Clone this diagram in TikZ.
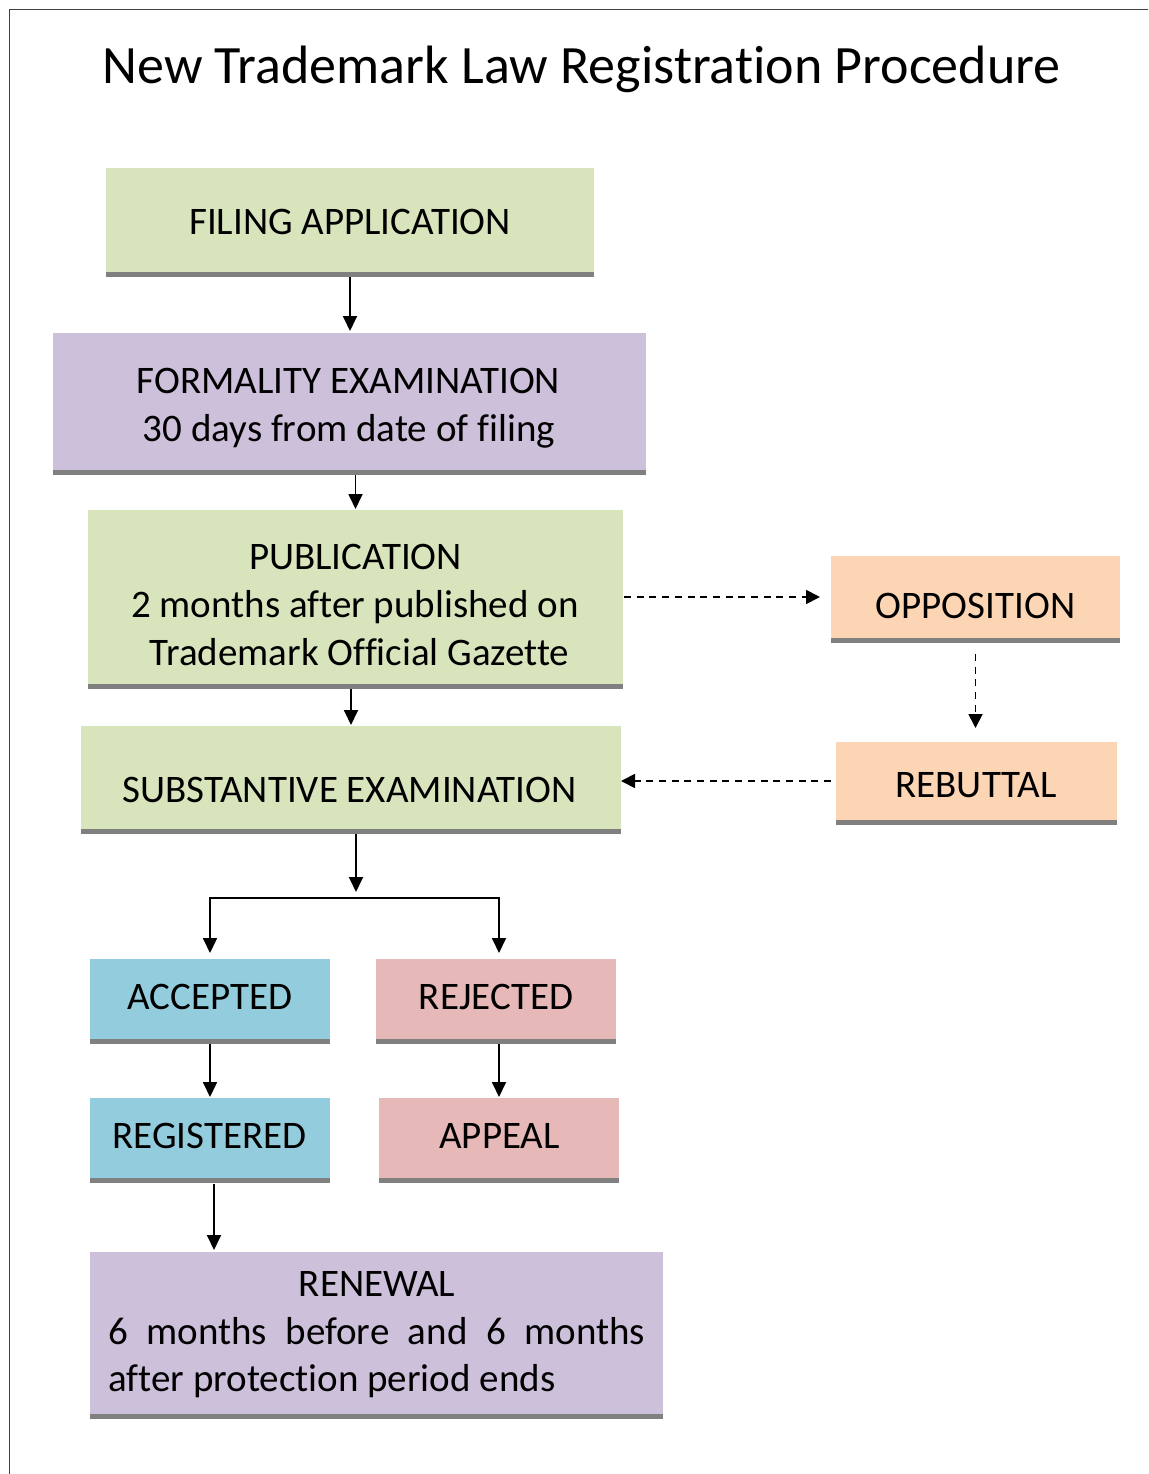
\documentclass[tikz,border=0pt]{standalone}
\usepackage{fontspec}
\setmainfont{Carlito}[Ligatures=NoCommon]
\usetikzlibrary{arrows.meta}
\definecolor{cgreen}{HTML}{D8E4BC}
\definecolor{cpurple}{HTML}{CCC0DA}
\definecolor{cpeach}{HTML}{FCD5B5}
\definecolor{cblue}{HTML}{93CDDD}
\definecolor{cpink}{HTML}{E6B9B8}
\definecolor{cbar}{HTML}{808080}
\newcommand\botbar[1]{\fill[cbar] (#1.south west) rectangle ([yshift=-4.5pt]#1.south east);}
\begin{document}
\begin{tikzpicture}[x=1pt,y=-1pt,
  boxs/.style={rectangle,inner sep=0pt,outer sep=0pt,draw=none},
  txt/.style={inner sep=0pt,anchor=base,yshift=2.5pt,font=\fontsize{39}{48}\selectfont},
  arr/.style={line width=1.8pt,-{Triangle[width=14pt,length=15pt]}},
  darr/.style={line width=1.8pt,dash pattern=on 7pt off 5.7pt,-{Triangle[width=14pt,length=14pt]}}]
\useasboundingbox (0,0) rectangle (1148,1474);
% frame
\draw[line width=1pt,black!75] (9,1474) -- (9,10) -- (1148,10);
% title
\node[txt,font=\fontsize{54}{60}\selectfont] (title) at (581.5,86) {New Trademark Law Registration Procedure};
% boxes
\node[boxs,fill=cgreen,minimum width=488pt,minimum height=104pt] (filing) at (350,220) {};
\node[boxs,fill=cpurple,minimum width=593pt,minimum height=137pt] (formal) at (349.5,401.5) {};
\node[boxs,fill=cgreen,minimum width=535pt,minimum height=174pt] (pub) at (355.5,597) {};
\node[boxs,fill=cgreen,minimum width=540pt,minimum height=103pt] (subst) at (351,777.5) {};
\node[boxs,fill=cpeach,minimum width=289pt,minimum height=82pt] (opp) at (975.5,597) {};
\node[boxs,fill=cpeach,minimum width=281pt,minimum height=78pt] (reb) at (976.5,781) {};
\node[boxs,fill=cblue,minimum width=240pt,minimum height=80pt] (acc) at (210,999) {};
\node[boxs,fill=cpink,minimum width=240pt,minimum height=80pt] (rej) at (496,999) {};
\node[boxs,fill=cblue,minimum width=240pt,minimum height=80pt] (reg) at (210,1138) {};
\node[boxs,fill=cpink,minimum width=240pt,minimum height=80pt] (app) at (499,1138) {};
\node[boxs,fill=cpurple,minimum width=573pt,minimum height=162pt] (ren) at (376.5,1333) {};
\botbar{filing}\botbar{formal}\botbar{pub}\botbar{subst}\botbar{opp}\botbar{reb}
\botbar{acc}\botbar{rej}\botbar{reg}\botbar{app}\botbar{ren}
% texts
\node[txt] (filingT) at (350,237) {FILING APPLICATION};
\node[txt] (formalT1) at (348.5,396) {FORMALITY EXAMINATION};
\node[txt] (formalT2) at (349,444) {30 days from date of filing};
\node[txt] (pubT1) at (355.5,572) {PUBLICATION};
\node[txt] (pubT2) at (355,620) {2 months after published on};
\node[txt] (pubT3) at (359.5,668) {Trademark Official Gazette};
\node[txt] (substT) at (349.5,805) {SUBSTANTIVE EXAMINATION};
\node[txt] (oppT) at (975.5,621) {OPPOSITION};
\node[txt] (rebT) at (976,800) {REBUTTAL};
\node[txt] (accT) at (210,1012) {ACCEPTED};
\node[txt] (rejT) at (496,1012) {REJECTED};
\node[txt] (regT) at (209.5,1151) {REGISTERED};
\node[txt] (appT) at (499.5,1151) {APPEAL};
\node[txt] (renT1) at (377,1299) {RENEWAL};
\node[txt,anchor=base west] (renT2) at (108,1347) {\makebox[537pt][s]{6 months before and 6 months}};
\node[txt,anchor=base west] (renT3) at (108,1394) {after protection period ends};
% connectors
\draw[arr] ([yshift=-5pt]filing.south) -- ([yshift=2pt]filing.south |- formal.north);
\draw[arr] ([yshift=-5pt]pub.north |- formal.south) -- ([yshift=1pt]pub.north);
\draw[arr] ([yshift=-5pt]subst.north |- pub.south) -- ([yshift=1pt]subst.north);
\coordinate (split) at (356,898);
\coordinate (splitL) at (210,898);
\coordinate (splitR) at (499,898);
\draw[arr] ([yshift=-5pt]split |- subst.south) -- ([yshift=6pt]split);
\draw[line width=1.8pt] (splitL) -- (splitR);
\draw[arr] ([yshift=0.9pt]splitL) -- ([yshift=6pt]acc.north);
\draw[arr] ([yshift=0.9pt]splitR) -- ([yshift=6pt]splitR |- rej.north);
\draw[arr] ([yshift=-5pt]acc.south) -- ([yshift=1pt]reg.north);
\draw[arr] ([yshift=-5pt]app.north |- rej.south) -- ([yshift=1pt]app.north);
\draw[arr] ([xshift=4pt,yshift=-6pt]reg.south) -- ([xshift=4pt,yshift=2pt]reg.south |- ren.north);
\draw[darr] ([xshift=1pt]pub.east) -- ([xshift=-11pt]opp.west);
\draw[darr] ([yshift=-16pt]opp.south) -- ([yshift=14pt]opp.south |- reb.north);
\draw[darr] ([xshift=-5pt]reb.west) -- (subst.east |- reb.west);
\end{tikzpicture}
\end{document}
